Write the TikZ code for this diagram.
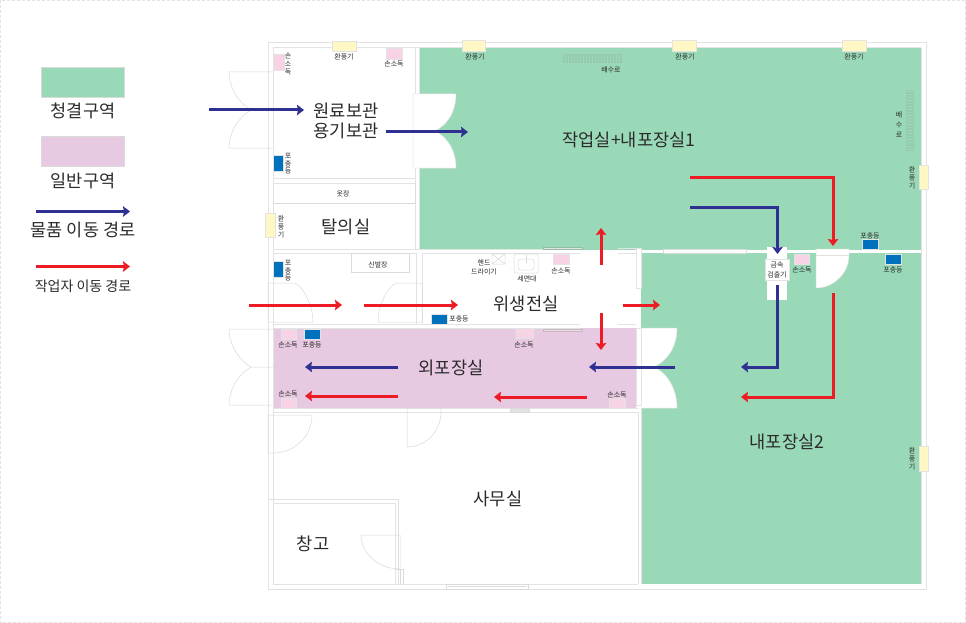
\documentclass[tikz,border=0pt]{standalone}
\usepackage{fontspec}
\setmainfont{Noto Sans CJK KR}
\usetikzlibrary{arrows.meta}
\definecolor{cleangreen}{HTML}{9AD9B7}
\definecolor{genpink}{HTML}{E8C9E2}
\definecolor{pathblue}{HTML}{2E3192}
\definecolor{pathred}{HTML}{ED1C24}
\definecolor{wallgray}{HTML}{E3E3E3}
\definecolor{doorgray}{HTML}{DADADA}
\definecolor{sanpink}{HTML}{F8D3E6}
\definecolor{fanyellow}{HTML}{FFF8C5}
\definecolor{trapblue}{HTML}{0071BC}
\definecolor{txtgray}{HTML}{2B2B2B}
\tikzset{
  x=1pt,y=-1pt,
  wall/.style={draw=wallgray,line width=1pt},
  thin wall/.style={draw=doorgray,line width=.6pt},
  door/.style={draw=doorgray,line width=.5pt},
  whitedoor/.style={fill=white,draw=wallgray,line width=.5pt},
  bluepath/.style={draw=pathblue,line width=3pt,-{Stealth[length=7pt,width=10.5pt,inset=1pt]}},
  redpath/.style={draw=pathred,line width=3pt,-{Stealth[length=7pt,width=10.5pt,inset=1pt]}},
  big/.style={inner sep=0pt,xshift=1pt,yshift=-1pt,text=txtgray,font=\fontsize{17.6}{20}\selectfont,align=center},
  legendtxt/.style={inner sep=0pt,xshift=1pt,yshift=-1pt,text=txtgray,font=\fontsize{17.5}{20}\selectfont},
  tiny/.style={inner sep=0pt,yshift=-.7pt,text=txtgray,font=\fontsize{7}{7.8}\selectfont,align=center},
  tinywide/.style={inner sep=0pt,yshift=-.7pt,text=txtgray,font=\fontsize{7}{9.6}\selectfont,align=center},
  sanbox/.style={fill=sanpink,draw=wallgray,line width=.5pt},
  fanbox/.style={fill=fanyellow,draw=wallgray,line width=.6pt},
  trapbox/.style={fill=trapblue,draw=wallgray,line width=.4pt},
}
\begin{document}
\begin{tikzpicture}
\useasboundingbox (0,0) rectangle (966,623);
\fill[white] (0,0) rectangle (966,623);
\draw[wallgray,line width=.8pt,densely dashed] (.5,.5) rectangle (965.5,622.5);

% legend
\fill[cleangreen,draw=doorgray,line width=.5pt] (41,67) rectangle (124,97);
\fill[genpink,draw=doorgray,line width=.5pt] (41,136) rectangle (124,166);
\node[legendtxt] (lg1) at (82,110) {청결구역};
\node[legendtxt] (lg2) at (82,180) {일반구역};
\node[legendtxt] (lg3) at (82,229) {물품 이동 경로};
\node[legendtxt,font=\fontsize{14}{16}\selectfont] (lg4) at (82,285) {작업자 이동 경로};
\coordinate (lb1) at (36,211.5); \coordinate (lb2) at (130,211.5);
\coordinate (lr1) at (36,266.5); \coordinate (lr2) at (130,266.5);
\draw[bluepath] (lb1) -- (lb2);
\draw[redpath] (lr1) -- (lr2);

% zones
\fill[cleangreen] (419,48) rectangle (921,249.5);
\fill[cleangreen] (641,253) rectangle (921,584);
\fill[genpink] (273,328) rectangle (637,408);

% outer walls
\draw[wall] (268,43) rectangle (926,589);
\draw[wall] (273,48) -- (921,48) (273,48) -- (273,584) -- (638,584);
\draw[wall] (921,48) -- (921,584);
% inner walls
\draw[wall] (415,48) -- (415,94) (415,168) -- (415,249) (419,48) -- (419,250);
\draw[wall] (273,178) -- (415,178) (273,183) -- (415,183);
\draw[thin wall] (273,203) -- (415,203) (415,183) -- (415,203);
\draw[wall] (273,249) -- (580,249) (273,253) -- (416,253);
\draw[wall] (416,253) -- (416,324) (422,253) -- (422,324);
\draw[wall] (422,253) -- (580,253) (618,248) -- (636,248) (618,253) -- (636,253);
\draw[wall] (273,324) -- (580,324) (273,328) -- (580,328) (618,324) -- (636,324);
\draw[wall] (273,408) -- (638,408) (273,412) -- (638,412) (638,412) -- (638,584) (641,408) -- (641,584);
\draw[wall] (268,499) -- (398,499) -- (398,584) (273,503) -- (395,503) -- (395,584);
\draw[door] (395,569) -- (403,569) (400,569) -- (400,584) (403,569) -- (403,584);
\draw[thin wall,fill=white] (446,584) rectangle (528,589);
\draw[door] (448,586.5) -- (526,586.5);
\draw[thin wall,fill=wallgray] (510,408) rectangle (529,412);
\draw[draw=cleangreen!70!gray,line width=.7pt,fill=wallgray] (543,247) rectangle (582,249.5);
\draw[draw=genpink!70!gray,line width=.7pt,fill=wallgray] (543,329) rectangle (582,331);
\draw[thin wall,fill=white] (351,253) rectangle (409,272);

% right white band
\fill[white] (636,249.5) rectangle (921,253);
\fill[white] (636,248) rectangle (641,288);
\draw[wall] (636,248) rectangle (641,288);
\draw[thin wall,fill=white] (663,249) rectangle (746,253);

% doors, outline only
\draw[door] (273,72) -- (229,72) .. controls (229,85) and (236,101) .. (251,110)
  .. controls (236,119) and (229,135) .. (229,148) -- (273,148) (251,110) -- (273,110);
\draw[door] (273,329) -- (229,329) .. controls (229,342) and (236,358) .. (251,367)
  .. controls (236,376) and (229,392) .. (229,405) -- (273,405) (251,367) -- (273,367);
\draw[door] (268,283) -- (295,283) .. controls (304,288) and (313,305) .. (313,322) -- (268,322) -- cycle;
\draw[door] (422,283) -- (396,283) .. controls (387,288) and (378,305) .. (378,322) -- (422,322) -- cycle;
\draw[door] (268,415) -- (312,415) .. controls (312,436) and (295,453) .. (273,453) -- (268,453) -- cycle;
\draw[door] (407,408) -- (441,408) -- (441,412) .. controls (441,431) and (426,447) .. (407,447) -- cycle;
\draw[door] (400,535) -- (361,535) .. controls (361,553) and (378,569) .. (400,569) -- cycle;

% white doors on the green
\path[whitedoor] (413,94) -- (456,94) .. controls (456,110) and (449,124) .. (435,131)
  .. controls (449,138) and (456,152) .. (456,168) -- (413,168) -- cycle;
\path[whitedoor] (636,328) -- (677,328) .. controls (677,345) and (669,360) .. (654,367)
  .. controls (669,374) and (677,391) .. (677,408) -- (636,408) -- cycle;
\draw[wall,fill=white] (636,328) rectangle (641,405);
\path[whitedoor] (816,249) -- (849,249) -- (849,255) .. controls (849,273) and (834,288) .. (816,288) -- cycle;
\draw[wall] (816,255) -- (849,255);
\fill[white] (767,247) rectangle (787,300);

% fixtures: fans
\draw[fanbox] (332,41) rectangle (356,51);
\draw[fanbox] (462,40) rectangle (485,51);
\draw[fanbox] (672,40) rectangle (696,51);
\draw[fanbox] (842,40) rectangle (866,51);
\draw[fanbox] (919,165) rectangle (928,189);
\draw[fanbox] (919,446) rectangle (928,471);
\draw[fanbox] (265,213) rectangle (275,237);
\node[tiny] (f1) at (344,56) {환풍기};
\node[tiny] (f2) at (475,56) {환풍기};
\node[tiny] (f3) at (685,56) {환풍기};
\node[tiny] (f4) at (854,56) {환풍기};
\node[tiny] (f5) at (912,177) {환\\풍\\기};
\node[tiny] (f6) at (912,458) {환\\풍\\기};
\node[tiny] (f7) at (281,226) {환\\풍\\기};

% fixtures: sanitizer
\draw[sanbox] (273,54) rectangle (284,70);
\draw[sanbox] (386,48) rectangle (402,59);
\draw[sanbox] (553,254) rectangle (569,264);
\draw[sanbox] (281,329) rectangle (296,339);
\draw[sanbox] (516,328) rectangle (533,338);
\draw[sanbox] (281,398) rectangle (296,408);
\draw[sanbox] (609,398) rectangle (625,408);
\draw[sanbox] (794,254) rectangle (809,264);
\node[tiny] (s1) at (288,63) {손\\소\\독};
\node[tiny] (s2) at (394,63) {손소독};
\node[tiny] (s3) at (561,270) {손소독};
\node[tiny] (s4) at (288,344) {손소독};
\node[tiny] (s5) at (524,344) {손소독};
\node[tiny] (s6) at (288,393) {손소독};
\node[tiny] (s7) at (617,394) {손소독};
\node[tiny] (s8) at (802,269) {손소독};

% fixtures: insect traps
\draw[trapbox] (273,155) rectangle (283,171);
\draw[trapbox] (273,261) rectangle (283,277);
\draw[trapbox] (431,314) rectangle (447,324);
\draw[trapbox] (304,329) rectangle (320,339);
\draw[trapbox] (862,239) rectangle (878,249);
\draw[trapbox] (885,254) rectangle (901,264);
\node[tiny] (t1) at (288,163) {포\\충\\등};
\node[tiny] (t2) at (288,270) {포\\충\\등};
\node[tiny] (t3) at (459,318) {포충등};
\node[tiny] (t4) at (312,344) {포충등};
\node[tiny] (t5) at (870,235) {포충등};
\node[tiny] (t6) at (893,269) {포충등};

% drains
\fill[cleangreen!85!gray] (563,54) rectangle (623,63);
\foreach \x in {565,568,...,622} \draw[cleangreen,line width=1pt] (\x,55) -- (\x,62);
\fill[cleangreen!85!gray] (906,90) rectangle (914,151);
\foreach \y in {92,95,...,150} \draw[cleangreen,line width=1pt] (907,\y) -- (913,\y);
\node[tiny] (d1) at (611,69) {배수로};
\node[tinywide] (d2) at (899,124) {배\\수\\로};

% hand dryer, sink, closets
\draw[door] (492,254) rectangle (505,264) (492,254) -- (505,264) (505,254) -- (492,264);
\draw[door,rounded corners=1.5pt] (514,254) rectangle (538,273);
\draw[door,rounded corners=3pt] (518,259) rectangle (534,270);
\draw[door] (526,255) -- (526,263);
\node[tinywide] (h1) at (484,266.5) {핸드\\드라이기};
\node[tiny] (h2) at (527,278) {세면대};
\node[tiny] (c1) at (343,193) {옷장};
\node[tiny] (c2) at (378,264) {신발장};

% room names
\node[big] (r1) at (345,120) {원료보관\\용기보관};
\node[big] (r2) at (345,226) {탈의실};
\node[big] (r3) at (525,303) {위생전실};
\node[big] (r4) at (450,367) {외포장실};
\node[big] (r5) at (628,139) {작업실+내포장실1};
\node[big] (r6) at (786,441) {내포장실2};
\node[big] (r7) at (497,498) {사무실};
\node[big] (r8) at (312,543) {창고};

% paths
\coordinate (a1) at (209,110); \coordinate (a2) at (304,110);
\coordinate (a3) at (386,132); \coordinate (a4) at (468,132);
\draw[bluepath] (a1) -- (a2);
\draw[bluepath] (a3) -- (a4);
\coordinate (b1) at (690,207); \coordinate (b2) at (777.5,207); \coordinate (b3) at (777.5,254);
\draw[bluepath] (b1) -- (b2) -- (b3);
\coordinate (b4) at (777.5,285); \coordinate (b5) at (777.5,367); \coordinate (b6) at (741,367);
\draw[bluepath] (b4) -- (b5) -- (b6);
\coordinate (b7) at (675,367); \coordinate (b8) at (589,367);
\draw[bluepath] (b7) -- (b8);
\coordinate (b9) at (398,367); \coordinate (b10) at (305,367);
\draw[bluepath] (b9) -- (b10);

\coordinate (c1a) at (690,177); \coordinate (c2a) at (833,177); \coordinate (c3a) at (833,246);
\draw[redpath] (c1a) -- (c2a) -- (c3a);
\coordinate (c4a) at (833,293); \coordinate (c5a) at (833,397); \coordinate (c6a) at (741,397);
\draw[redpath] (c4a) -- (c5a) -- (c6a);
\coordinate (e1) at (249,305); \coordinate (e2) at (342,305);
\draw[redpath] (e1) -- (e2);
\coordinate (e3) at (364,305); \coordinate (e4) at (458,305);
\draw[redpath] (e3) -- (e4);
\coordinate (e5) at (601,265); \coordinate (e6) at (601,228);
\draw[redpath] (e5) -- (e6);
\coordinate (e7) at (623,305); \coordinate (e8) at (660,305);
\draw[redpath] (e7) -- (e8);
\coordinate (e9) at (601,313); \coordinate (e10) at (601,350);
\draw[redpath] (e9) -- (e10);
\coordinate (e11) at (587,397); \coordinate (e12) at (494,397);
\draw[redpath] (e11) -- (e12);
\coordinate (e13) at (398,396); \coordinate (e14) at (305,396);
\draw[redpath] (e13) -- (e14);

% metal detector
\node[tinywide,fill=white,draw=wallgray,line width=.5pt,minimum width=24pt,minimum height=21pt] (md) at (777,269) {금속\\검출기};
\end{tikzpicture}
\end{document}
